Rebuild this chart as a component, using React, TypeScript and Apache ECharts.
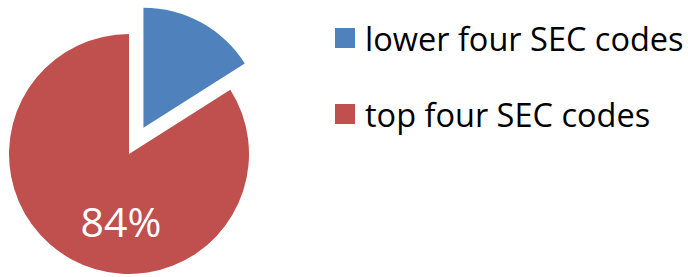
import React, { useEffect, useRef } from "react";
import * as echarts from "echarts";

const categories = ["lower four SEC codes", "top four SEC codes"];
const values = [16, 84];
const colors = ["#4F81BD", "#C0504D"];

export default function App() {
  const ref = useRef<HTMLDivElement>(null);
  useEffect(() => {
    if (!ref.current) return;
    const chart = echarts.init(ref.current, undefined, { renderer: "svg" });
    chart.setOption({
      animation: false,
      backgroundColor: "#ffffff",
      legend: {
        orient: "vertical",
        left: 335,
        top: 18,
        padding: 0,
        itemWidth: 20,
        itemHeight: 20,
        itemGap: 36,
        icon: "rect",
        selectedMode: false,
        data: categories,
        textStyle: {
          fontFamily: "Open Sans",
          fontSize: 32.5,
          color: "#000000",
          lineHeight: 40,
          padding: [0, 0, 0, 5],
        },
      },
      series: [
        {
          type: "pie",
          center: [129, 154],
          radius: 120,
          startAngle: 90,
          clockwise: true,
          selectedMode: "single",
          selectedOffset: 30,
          silent: true,
          emphasis: { disabled: true },
          labelLine: { show: false },
          label: {
            show: true,
            position: "inside",
            formatter: "{d}%",
            fontFamily: "Open Sans",
            fontSize: 41,
            color: "#ffffff",
          },
          labelLayout: { x: 121, y: 221 },
          data: categories.map((name, i) => ({
            name,
            value: values[i],
            selected: i === 0,
            itemStyle: { color: colors[i] },
            label: { show: i === 1 },
          })),
        },
      ],
    });
    return () => chart.dispose();
  }, []);
  return (
    <div
      ref={ref}
      style={{ position: "fixed", left: 0, top: 0, width: 688, height: 277 }}
    />
  );
}
